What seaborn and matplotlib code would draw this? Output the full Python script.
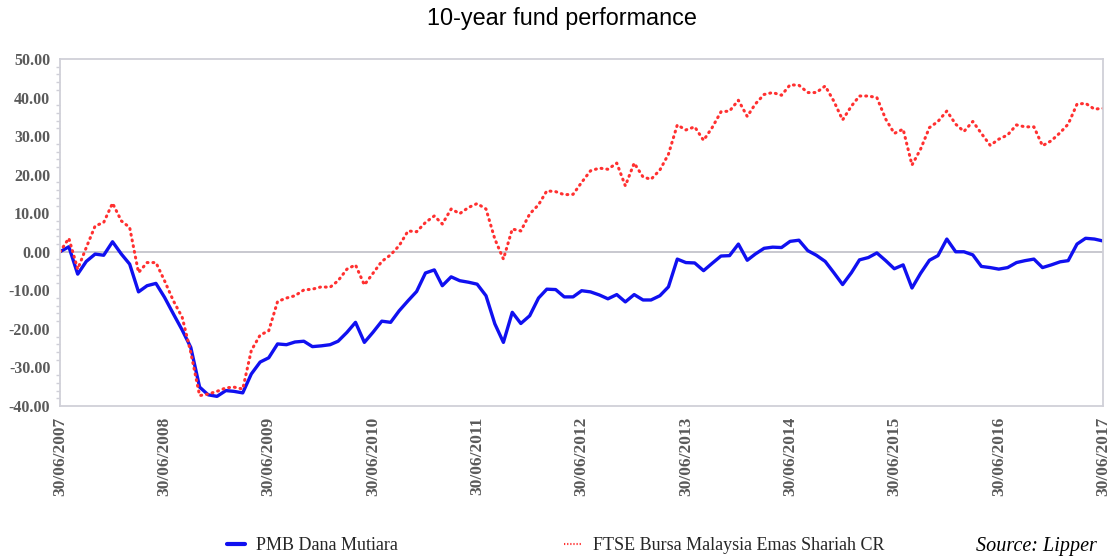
import pandas as pd
import numpy as np
import matplotlib
matplotlib.use("Agg")
import matplotlib.pyplot as plt
import matplotlib.dates as mdates
from matplotlib.ticker import MultipleLocator, FormatStrFormatter
from matplotlib.lines import Line2D
import seaborn as sns

# monthly cumulative performance (%), 30/06/2007 - 30/06/2017
dates = pd.date_range("2007-06-30", "2017-06-30", freq="ME")

fund_name = "PMB Dana Mutiara"
index_name = "FTSE Bursa Malaysia Emas Shariah CR"

fund = [
    0.0, 1.3, -5.8, -2.5, -0.6, -0.9, 2.6, -0.6, -3.2, -10.4, -8.8, -8.2,
    -11.8, -16.1, -20.3, -24.8, -35.1, -37.1, -37.5, -36.0, -36.2, -36.6, -31.7, -28.6,
    -27.5, -23.9, -24.1, -23.4, -23.2, -24.6, -24.4, -24.1, -23.2, -20.9, -18.3, -23.5,
    -20.9, -18.0, -18.3, -15.3, -12.7, -10.3, -5.5, -4.7, -8.8, -6.5, -7.5, -7.9,
    -8.4, -11.4, -18.7, -23.5, -15.7, -18.6, -16.6, -12.0, -9.7, -9.8, -11.7, -11.7,
    -10.1, -10.4, -11.2, -12.2, -11.1, -13.0, -11.1, -12.5, -12.5, -11.4, -9.1, -1.9,
    -2.8, -2.9, -4.9, -3.0, -1.1, -1.0, 2.0, -2.2, -0.6, 0.9, 1.2, 1.1,
    2.7, 3.0, 0.3, -0.9, -2.5, -5.4, -8.5, -5.4, -2.1, -1.5, -0.3, -2.3,
    -4.4, -3.4, -9.4, -5.6, -2.2, -1.0, 3.3, 0.0, 0.0, -0.8, -3.8, -4.1,
    -4.5, -4.1, -2.8, -2.3, -1.9, -4.1, -3.4, -2.6, -2.3, 2.0, 3.5, 3.3,
    2.8,
]

benchmark = [
    0.0, 3.5, -4.5, 1.1, 6.7, 7.6, 12.6, 8.0, 6.3, -5.4, -2.8, -2.8,
    -7.5, -12.7, -17.0, -26.1, -37.3, -36.9, -36.2, -35.3, -35.1, -35.6, -25.6, -21.6,
    -20.5, -12.9, -12.0, -11.4, -9.9, -9.7, -9.1, -9.2, -7.5, -4.5, -3.4, -8.6,
    -5.6, -2.5, -0.8, 1.6, 5.4, 5.2, 7.6, 9.3, 7.2, 11.1, 9.9, 11.5,
    12.5, 11.1, 3.3, -1.9, 5.9, 5.4, 9.8, 12.2, 15.8, 15.6, 14.8, 14.9,
    18.0, 21.0, 21.7, 21.4, 23.0, 17.1, 23.0, 19.4, 18.8, 21.2, 25.3, 32.9,
    31.6, 32.4, 28.9, 32.2, 36.3, 36.5, 39.3, 35.1, 38.3, 40.8, 41.3, 40.6,
    43.3, 43.2, 41.3, 41.3, 43.0, 39.1, 34.2, 37.8, 40.4, 40.4, 40.0, 34.4,
    30.7, 31.8, 22.5, 26.6, 32.2, 33.8, 36.5, 33.1, 31.2, 33.8, 30.7, 27.6,
    29.2, 30.3, 32.9, 32.4, 32.4, 27.5, 28.8, 30.9, 33.1, 38.3, 38.5, 37.0,
    37.2,
]

year_ticks = pd.date_range("2007-06-30", "2017-06-30", freq="12ME")

df = pd.DataFrame({"Date": dates, fund_name: fund, index_name: benchmark})

# style
sns.set_style("white")
plt.rcParams["font.family"] = ["DejaVu Sans"]

blue = "#1010f0"
red = "#ff3030"
grey_text = "#5a5a5a"
grey_line = "#d0d0d8"

fig = plt.figure(figsize=(11.13, 5.58), dpi=100)
ax = fig.add_axes([60 / 1113, 152 / 558, 1043 / 1113, 347 / 558])

sns.lineplot(data=df, x="Date", y=fund_name, ax=ax, color=blue, linewidth=2.4)
sns.lineplot(data=df, x="Date", y=index_name, ax=ax, color=red, linewidth=2.2,
             linestyle=(0, (0.3, 1.6)), dash_capstyle="round")

ax.axhline(0, color="#c4c4cc", linewidth=1.3, zorder=0)

ax.set_xlim(dates[0], dates[-1])
ax.set_ylim(-40, 50)
ax.set_xlabel("")
ax.set_ylabel("")

ax.set_xticks(year_ticks)
ax.xaxis.set_major_formatter(mdates.DateFormatter("%d/%m/%Y"))
ax.yaxis.set_major_locator(MultipleLocator(10))
ax.yaxis.set_minor_locator(MultipleLocator(2))
ax.yaxis.set_major_formatter(FormatStrFormatter("%.2f"))

for lab in ax.get_xticklabels():
    lab.set_rotation(90)
    lab.set_fontfamily("Liberation Serif")
    lab.set_fontsize(12.5)
    lab.set_fontweight("bold")
    lab.set_color(grey_text)
for lab in ax.get_yticklabels():
    lab.set_fontfamily("Liberation Serif")
    lab.set_fontsize(11.5)
    lab.set_fontweight("bold")
    lab.set_color(grey_text)

ax.tick_params(axis="x", which="major", direction="out", length=5, width=1, color=grey_line, pad=3)
ax.tick_params(axis="y", which="major", direction="out", length=4, width=1, color=grey_line, pad=3)
ax.tick_params(axis="y", which="minor", direction="out", length=3, width=1, color=grey_line, left=True)

for sp in ax.spines.values():
    sp.set_visible(True)
    sp.set_color(grey_line)
    sp.set_linewidth(1.3)

# title
fig.text(0.505, 1 - 19 / 558, "10-year fund performance", ha="center", va="center",
         fontsize=16.8, family="Liberation Sans", color="black")

# legend at the bottom
handles = [
    Line2D([], [], color=blue, linewidth=3),
    Line2D([], [], color=red, linewidth=1.5, linestyle=(0, (0.6, 0.9))),
]
fig.legend(handles, [fund_name, index_name], loc="center",
           bbox_to_anchor=(0.499, 12 / 558), ncol=2, frameon=False,
           prop={"family": "Liberation Serif", "size": 13},
           handlelength=1.0, handletextpad=0.6, columnspacing=9.2)

fig.text(1097 / 1113, 12 / 558, "Source: Lipper", ha="right", va="center",
         fontsize=14.5, family="Liberation Serif", style="italic", color="black")

plt.savefig("out.png", dpi=100)
